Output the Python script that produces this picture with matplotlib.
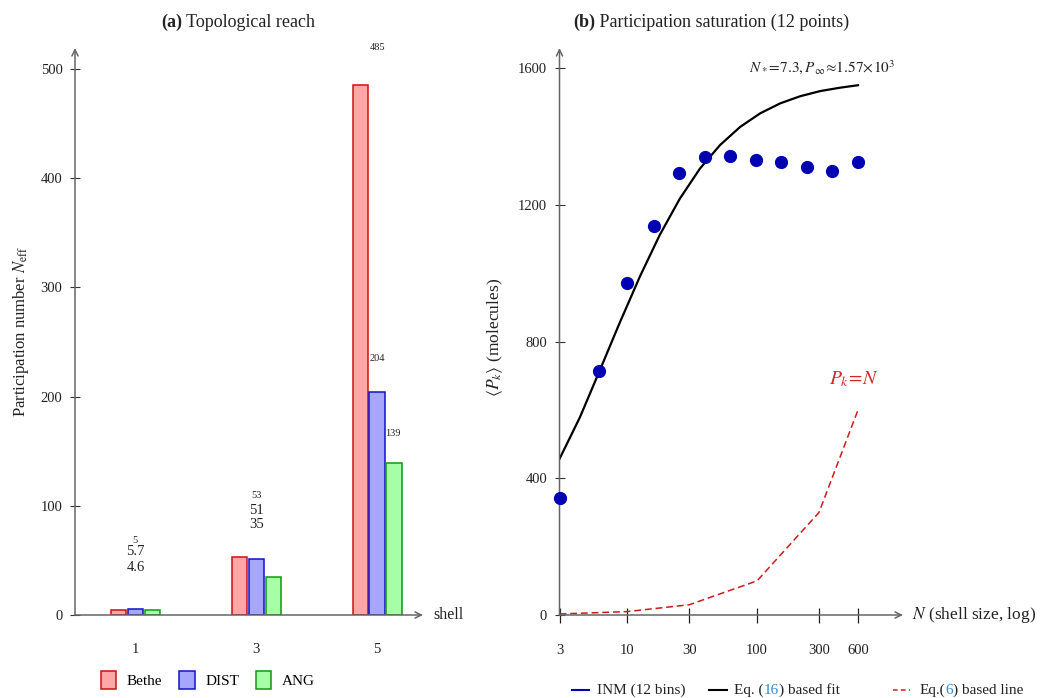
import numpy as np
import matplotlib
matplotlib.use("Agg")
import matplotlib.pyplot as plt
from matplotlib.lines import Line2D
from matplotlib.ticker import FixedLocator, FixedFormatter, NullLocator

plt.rcParams['font.family'] = 'serif'
plt.rcParams['font.serif'] = ['Liberation Serif', 'DejaVu Serif']
plt.rcParams['mathtext.fontset'] = 'stix'

# ---- data, panel (a)
shells = [1, 3, 5]
bethe = [5, 53, 485]
dist = [5.7, 51, 204]
ang = [4.6, 35, 139]
# value labels as they sit in the figure: (x, y, text, small?)
bar_labels = [(1, 68.4, '5', True), (1, 58.0, '5.7', False), (1, 43.1, '4.6', False),
              (3, 109.3, '53', True), (3, 95.8, '51', False), (3, 82.7, '35', False),
              (5, 519.5, '485', True), (5, 234.6, '204', True), (5.26, 165.7, '139', True)]

# ---- data, panel (b)
n_bins = [3, 6, 10, 16, 25, 40, 62, 98, 154, 243, 380, 600]
p_inm = [343, 714, 971, 1140, 1294, 1341, 1344, 1333, 1326, 1313, 1301, 1327]
n_fit = [3, 4.3, 6.1, 8.7, 12.5, 17.8, 25.4, 36.3, 51.9, 74.1, 106, 151, 216, 308, 440, 600]
p_fit = [457, 578, 714, 854, 991, 1113, 1219, 1307, 1376, 1429, 1469, 1498, 1519, 1534, 1544, 1551]
n_line = [3, 10, 30, 100, 300, 600]
p_line = [3, 10, 30, 100, 300, 600]
xticks_b = [3, 10, 30, 100, 300, 600]

W, H = 1051, 698
fig = plt.figure(figsize=(W/100, H/100), dpi=100)
axA = fig.add_axes([75/W, (H-615)/H, 348/W, 567/H])
axB = fig.add_axes([559.5/W, (H-615)/H, 343.5/W, 567/H])

AXC = '#666666'
TXT = '#222222'

def arrows(ax):
    for s in ax.spines.values():
        s.set_visible(False)
    kw = dict(xycoords='axes fraction', annotation_clip=False,
              arrowprops=dict(arrowstyle='->,head_length=0.45,head_width=0.22', color=AXC,
                              lw=1.1, shrinkA=0, shrinkB=0))
    ax.annotate('', xy=(1.0, 0), xytext=(0, 0), **kw)
    ax.annotate('', xy=(0, 1.0), xytext=(0, 0), **kw)

# ---------------- panel (a)
off = 0.28
wd = 0.253
x = np.array(shells, dtype=float)
b1 = axA.bar(x - off, bethe, wd, color='#ffa6a6', edgecolor='#cc1111', lw=1.1, label='Bethe')
b2 = axA.bar(x, dist, wd, color='#a6a6ff', edgecolor='#1111cc', lw=1.1, label='DIST')
b3 = axA.bar(x + off, ang, wd, color='#a6ffa6', edgecolor='#119911', lw=1.1, label='ANG')
for bx, by, s, small in bar_labels:
    axA.text(bx, by, s, ha='center', va='center', color=TXT,
             fontsize=7.5 if small else 10.5)
axA.set_xlim(0, 5.76)
axA.set_ylim(0, 519)
axA.set_xticks(shells)
axA.set_yticks([0, 100, 200, 300, 400, 500])
axA.tick_params(axis='y', direction='inout', length=7, width=0.8, color='#333333',
                labelsize=10.5, pad=5.5, labelcolor=TXT)
axA.tick_params(axis='x', length=0, pad=20, labelsize=10.5, labelcolor=TXT)
arrows(axA)
axA.set_ylabel(r'Participation number $N_{\mathrm{eff}}$', fontsize=12, color=TXT)
axA.yaxis.set_label_coords(-0.126, 0.50)
axA.text(1.03, 0, 'shell', transform=axA.transAxes, ha='left', va='center',
         fontsize=11.5, color=TXT)
fig.legend([b1, b2, b3], ['Bethe', 'DIST', 'ANG'], loc='center',
           bbox_to_anchor=(208/W, 1-680/H), ncol=3, frameon=False,
           handlelength=1.0, handleheight=1.45, handletextpad=0.7,
           columnspacing=1.1, fontsize=11)

# ---------------- panel (b)
axB.set_xscale('log')
axB.plot(n_line, p_line, color='#cc1a1a', lw=1.1, dashes=(4.5, 2.5), zorder=2)
axB.plot(n_fit, p_fit, color='black', lw=1.6, zorder=3)
axB.plot(n_bins, p_inm, 'o', color='#0000b3', ms=8.5, zorder=5, clip_on=False)
axB.set_xlim(3, 1334)
axB.set_ylim(0, 1660)
axB.xaxis.set_major_locator(FixedLocator(xticks_b))
axB.xaxis.set_major_formatter(FixedFormatter([str(v) for v in xticks_b]))
axB.xaxis.set_minor_locator(NullLocator())
axB.set_yticks([0, 400, 800, 1200, 1600])
axB.tick_params(axis='x', direction='inout', length=10.8, width=0.9, color='#222222',
                labelsize=10.5, pad=15.5, labelcolor=TXT)
axB.tick_params(axis='y', direction='inout', length=7, width=0.8, color='#333333',
                labelsize=10.5, pad=5.5, labelcolor=TXT)
arrows(axB)
axB.set_ylabel(r'$\langle P_k\rangle$ (molecules)', fontsize=12.6, color=TXT)
axB.yaxis.set_label_coords(-0.159, 0.489)
axB.text(1.027, 0, r'$N$ (shell size, log)', transform=axB.transAxes, ha='left',
         va='center', fontsize=12.5, color=TXT)
axB.text(320, 1605, r'$N_*\!=\!7.3, P_\infty\!\approx\!1.57\!\times\!10^3$',
         ha='center', va='center', fontsize=11, color=TXT)
axB.text(560, 690, r'$P_k\!=\!N$', ha='center', va='center', fontsize=14, color='#cc2a2a')

# ---------------- titles and legend (b), built from text pieces
def rich(x0, y0, parts, size):
    t = fig.text(x0, y0, parts[0][0], color=parts[0][1], fontweight=parts[0][2],
                 fontsize=size, va='center', ha='left')
    for s, c, fw in parts[1:]:
        t = axB.annotate(s, xy=(1, 0), xycoords=t, va='bottom', ha='left', color=c,
                         fontweight=fw, fontsize=size, annotation_clip=False)

rich(161/W, 1-22/H, [('(a)', TXT, 'bold'), (' Topological reach', TXT, 'normal')], 13)
rich(573/W, 1-22/H, [('(b)', TXT, 'bold'),
                     (' Participation saturation (12 points)', TXT, 'normal')], 13)

ly = 1 - 690/H
fig.add_artist(Line2D([571.7/W, 589/W], [ly, ly], color='#0000b3', lw=1.5))
fig.add_artist(Line2D([709/W, 726.7/W], [ly, ly], color='black', lw=1.5))
fig.add_artist(Line2D([892.7/W, 910/W], [ly, ly], color='#cc1a1a', lw=1.1, dashes=(3, 2.2)))
CITE = '#2b8ad6'
rich(597/W, ly, [('INM (12 bins)', TXT, 'normal')], 11)
rich(734/W, ly, [('Eq. (', TXT, 'normal'), ('16', CITE, 'normal'),
                 (') based fit', TXT, 'normal')], 11)
rich(920/W, ly, [('Eq.(', TXT, 'normal'), ('6', CITE, 'normal'),
                 (') based line', TXT, 'normal')], 11)

fig.savefig('out.png', dpi=100)
